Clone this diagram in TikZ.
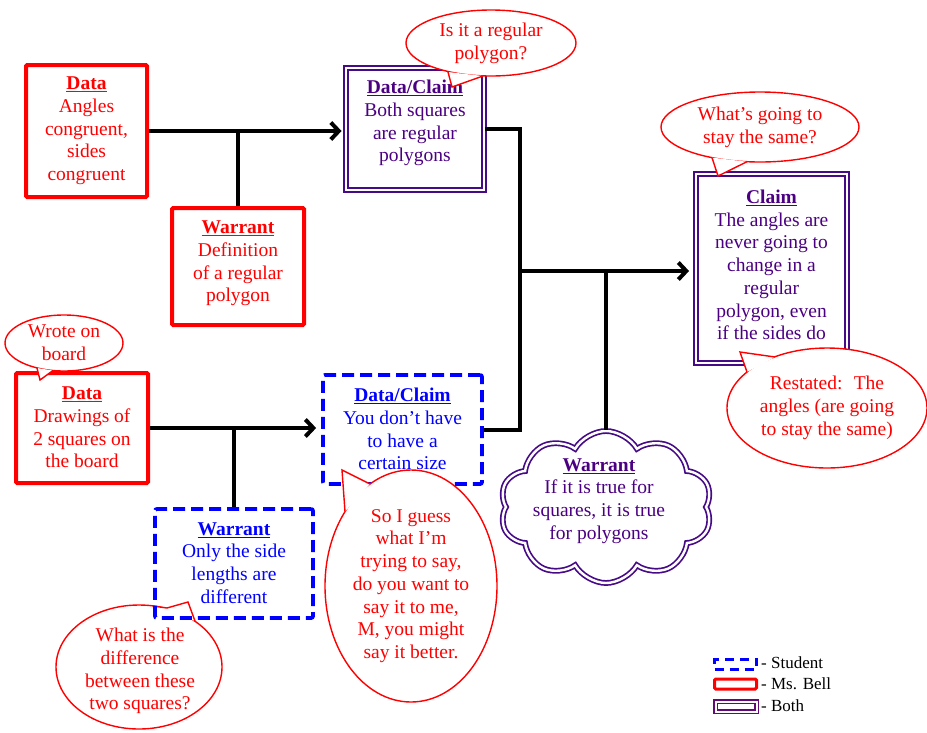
\documentclass[tikz,border=0pt]{standalone}
\usepackage{fontspec}
\setmainfont{Liberation Serif}
\usetikzlibrary{arrows.meta,shapes.geometric,shapes.symbols,calc}
\definecolor{mred}{RGB}{255,0,0}
\definecolor{mblue}{RGB}{0,0,255}
\definecolor{mpurp}{RGB}{70,10,135}
\definecolor{tpurp}{RGB}{75,0,130}
\definecolor{lpurp}{RGB}{100,10,120}
\begin{document}
\begin{tikzpicture}[x=1pt,y=-1pt,
  txt/.style={align=center, font=\fontsize{19.5}{22.7}\selectfont, inner sep=0pt},
  redbox/.style={draw=mred, line width=4pt, inner sep=0pt, rounded corners=1.2pt},
  bluebox/.style={draw=mblue, line width=3.8pt, dash pattern=on 12pt off 6pt, inner sep=0pt, rounded corners=2pt},
  bothbox/.style={draw=mpurp, double, double distance=2.4pt, line width=1.9pt, inner sep=0pt},
  conn/.style={line width=4pt, black},
  arr/.style={-{Straight Barb[length=8pt,width=17pt]}},
  bubble/.style={ellipse, draw=mred, line width=1.4pt, fill=white, inner sep=0pt, text=mred, align=center, font=\fontsize{19.5}{22.7}\selectfont},
  tailline/.style={draw=mred, line width=1.4pt, line join=miter},
  legtext/.style={anchor=west, inner sep=0pt, font=\fontsize{17}{20}\selectfont},
]
\useasboundingbox (0,0) rectangle (927,732);

% callout under the warrant box
\node[bubble, minimum width=166, minimum height=124] (q6) at (139,667) {};
\fill[white] (153,606) -- (167,608) -- (188,602) -- (195,621) -- cycle;
\draw[tailline] (153,606) -- (167,608) -- (188,602) -- (195,621);
\node[txt, text=mred] (q6t) at (140,671) {What is the\\difference\\between these\\two squares?};

% boxes
\node[redbox, minimum width=121, minimum height=132] (d1) at (86.5,131) {};
\node[txt, text=mred] (d1t) at (86.5,131) {\underline{\textbf{Data}}\\Angles\\congruent,\\sides\\congruent};

\node[redbox, minimum width=132, minimum height=117] (w1) at (238,266.5) {};
\node[txt, text=mred] (w1t) at (238,263.5) {\underline{\textbf{Warrant}}\\Definition\\of a regular\\polygon};

\node[bothbox, minimum width=138, minimum height=122] (dc1) at (415,129) {};
\node[txt, text=tpurp] (dc1t) at (415,123) {\underline{\textbf{Data/Claim}}\\Both squares\\are regular\\polygons};

\node[bothbox, minimum width=151, minimum height=189] (cl) at (771.5,268.5) {};
\node[txt, text=tpurp] (clt) at (771.5,265) {\underline{\textbf{Claim}}\\The angles are\\never going to\\change in a\\regular\\polygon, even\\if the sides do};

\node[redbox, minimum width=132, minimum height=110] (d2) at (82,428) {};
\node[txt, text=mred] (d2t) at (82,427.5) {\underline{\textbf{Data}}\\Drawings of\\2 squares on\\the board};

\node[bluebox, minimum width=158, minimum height=109] (w2) at (234,563.5) {};
\node[txt, text=mblue] (w2t) at (234,563) {\underline{\textbf{Warrant}}\\Only the side\\lengths are\\different};

\node[bluebox, minimum width=159, minimum height=109] (dc2) at (402.5,429.5) {};
\node[txt, text=mblue] (dc2t) at (402.5,429) {\underline{\textbf{Data/Claim}}\\You don’t have\\to have a\\certain size};

\node[cloud, draw=mpurp, double, double distance=2.4pt, line width=1.7pt, cloud puffs=10, cloud puff arc=120, aspect=1.4, minimum width=212, minimum height=152, inner sep=0pt] (cld) at (606,507) {};
\node[txt, text=tpurp] (cldt) at (599,501) {\underline{\textbf{Warrant}}\\If it is true for\\squares, it is true\\for polygons};

% connectors
\coordinate (jr) at (520,271);
\draw[conn, arr, shorten >=3.5pt] (d1.east) -- (d1.east -| dc1.west);
\draw[conn] (w1.north) -- (w1.north |- d1.east);
\draw[conn, arr, shorten >=5pt] (d2.east) -- (d2.east -| dc2.west);
\draw[conn] (w2.north) -- (w2.north |- d2.east);
\draw[conn] (dc1.east) -| (jr) |- (dc2.east);
\draw[conn, arr, shorten >=6pt] (jr) -- (jr -| cl.west);
\draw[conn] (jr -| cld.north) -- (cld.north);

% callouts on top
\node[bubble, minimum width=170, minimum height=66] (q1) at (491,43) {Is it a regular\\polygon?};
\fill[white] (448,72) -- (452,87) -- (483,76) -- cycle;
\draw[tailline] (448,72) -- (452,87) -- (483,76);

\node[bubble, minimum width=198, minimum height=70] (q2) at (760,127) {What’s going to\\stay the same?};
\fill[white] (712,157.6) -- (718,176) -- (747,161.7) -- cycle;
\draw[tailline] (712,157.6) -- (718,176) -- (747,161.7);

\node[bubble, minimum width=200, minimum height=120] (q3) at (827,408) {Restated:~ The\\angles (are going\\to stay the same)};
\fill[white] (747,372) -- (740,352) -- (775,357) -- cycle;
\draw[tailline] (747,372) -- (740,352) -- (775,357);

\node[bubble, minimum width=118, minimum height=56] (q4) at (64,343) {Wrote on\\board};
\fill[white] (37,368) -- (40,380) -- (53,370.5) -- cycle;
\draw[tailline] (37,368) -- (40,380) -- (53,370.5);

\node[bubble, minimum width=172, minimum height=232] (q5) at (411,586) {So I guess\\what I’m\\trying to say,\\do you want to\\say it to me,\\M, you might\\say it better.};
\fill[white] (345,511.6) -- (342,470) -- (370,484) -- cycle;
\draw[tailline] (345,511.6) -- (342,470) -- (370,484);

% legend
\node[bluebox, line width=3pt, dash pattern=on 9pt off 6pt, rounded corners=0pt, minimum width=42, minimum height=10] (lg1) at (735.5,664) {};
\node[redbox, line width=3pt, minimum width=42, minimum height=10] (lg2) at (735.5,684) {};
\node[bothbox, draw=lpurp, line width=1.6pt, double distance=2pt, minimum width=41, minimum height=10] (lg3) at (736,706.5) {};
\node[legtext] (lg1t) at (761,663) {- Student};
\node[legtext] (lg2t) at (761,684) {- Ms. Bell};
\node[legtext] (lg3t) at (761,706) {- Both};
\end{tikzpicture}
\end{document}
